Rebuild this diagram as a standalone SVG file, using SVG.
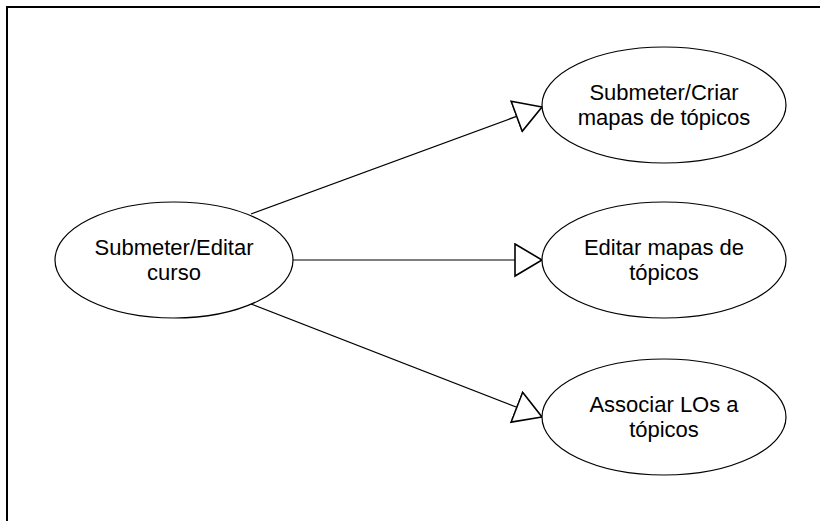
<svg xmlns="http://www.w3.org/2000/svg" width="820" height="521" viewBox="0 0 820 521">
  <defs>
    <marker id="hollow" markerUnits="userSpaceOnUse" markerWidth="32" markerHeight="36" refX="28" refY="17" orient="auto">
      <path d="M1,1 L28,17 L1,33 Z" fill="#fff" stroke="#000" stroke-width="1.6" stroke-linejoin="miter"/>
    </marker>
  </defs>
  <style>
    .frame { fill: none; stroke: #000; stroke-width: 2; }
    .uc { fill: #fff; stroke: #000; stroke-width: 1.2; }
    .lbl { font-family: "Liberation Sans", Arial, sans-serif; font-size: 22px; fill: #000; text-anchor: middle; }
    .link { fill: none; stroke: #000; stroke-width: 1.2; marker-end: url(#hollow); }
  </style>
  <rect width="820" height="521" fill="#fff"/>
  <path class="frame" d="M7,521 V7 H820"/>

  <g id="connectors">
    <line class="link" x1="251" y1="214" x2="542" y2="107"/>
    <line class="link" x1="293" y1="260" x2="542" y2="260"/>
    <line class="link" x1="251" y1="304" x2="542" y2="417"/>
  </g>

  <g id="submeter-editar-curso">
    <ellipse class="uc" cx="174" cy="260" rx="119" ry="58"/>
    <text class="lbl" x="174" y="255">Submeter/Editar</text>
    <text class="lbl" x="174" y="280">curso</text>
  </g>

  <g id="submeter-criar-mapas">
    <ellipse class="uc" cx="664" cy="105" rx="122" ry="58"/>
    <text class="lbl" x="664" y="100">Submeter/Criar</text>
    <text class="lbl" x="664" y="125">mapas de tópicos</text>
  </g>

  <g id="editar-mapas">
    <ellipse class="uc" cx="664" cy="260" rx="122" ry="58"/>
    <text class="lbl" x="664" y="255">Editar mapas de</text>
    <text class="lbl" x="664" y="280">tópicos</text>
  </g>

  <g id="associar-los">
    <ellipse class="uc" cx="664" cy="417" rx="122" ry="58"/>
    <text class="lbl" x="664" y="412">Associar LOs a</text>
    <text class="lbl" x="664" y="437">tópicos</text>
  </g>
</svg>
